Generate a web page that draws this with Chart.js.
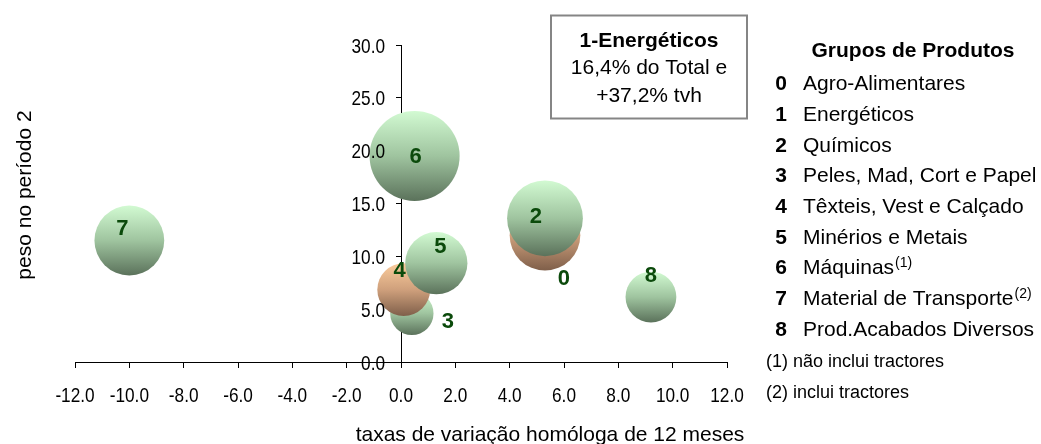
<!DOCTYPE html>
<html>
<head>
<meta charset="utf-8">
<script src="https://cdn.jsdelivr.net/npm/chart.js@4.4.1/dist/chart.umd.min.js"></script>
<style>
html,body{margin:0;padding:0;background:#ffffff;}
#wrap{width:1041px;height:444px;position:relative;}
</style>
</head>
<body>
<div id="wrap"><canvas id="c" width="1041" height="444"></canvas></div>
<script>
// ---------- DATA ----------
const groupCodes = ['0','1','2','3','4','5','6','7','8'];
const groupNames = ['Agro-Alimentares','Energéticos','Químicos','Peles, Mad, Cort e Papel','Têxteis, Vest e Calçado','Minérios e Metais','Máquinas','Material de Transporte','Prod.Acabados Diversos'];
const groupNotes = ['','','','','','','(1)','(2)',''];
const footnotes = ['(1) não inclui tractores','(2) inclui tractores'];

// plotted groups (1-Energéticos is outside the range, shown in the box)
const plottedCodes   = ['0','2','3','4','5','6','7','8'];
const growthRate     = [5.3, 5.3, 0.4, 0.1, 1.3, 0.5, -10.0, 9.2];   // x: taxa de variação homóloga
const weightPeriod2  = [12.0, 13.6, 4.6, 6.85, 9.35, 19.5, 11.5, 6.15]; // y: peso no período 2
const bubbleWeight   = [12.0, 13.8, 4.5, 6.7, 9.3, 19.5, 11.7, 6.2];  // bubble size

const xTickValues = [-12,-10,-8,-6,-4,-2,0,2,4,6,8,10,12];
const xTickLabels = ['-12.0','-10.0','-8.0','-6.0','-4.0','-2.0','0.0','2.0','4.0','6.0','8.0','10.0','12.0'];
const yTickValues = [0,5,10,15,20,25,30];
const yTickLabels = ['0.0','5.0','10.0','15.0','20.0','25.0','30.0'];

const boxLines = ['1-Energéticos','16,4% do Total e','+37,2% tvh'];
const xTitle = 'taxas de variação homóloga de 12 meses';
const yTitle = 'peso no período 2';
const legendTitle = 'Grupos de Produtos';

// ---------- STYLE ----------
const orangeCodes = ['0','4'];
const SIZE_K = 10.2;
const LABEL_OFFSETS = {'0':[19,42],'2':[-9,-3],'3':[36,7],'4':[-4,-20],'5':[4,-18],'6':[1,-1],'7':[-7,-13],'8':[0,-23]};
const SANS = "'Liberation Sans', Arial, Helvetica, sans-serif";

function bubbleFill(ctx) {
  const chart = ctx.chart;
  const ys = chart.scales && chart.scales.y;
  const i = ctx.dataIndex;
  const orange = i !== undefined && orangeCodes.includes(plottedCodes[i]);
  if (!ys || i === undefined) return orange ? '#cfa07c' : '#9fc49f';
  const cy = ys.getPixelForValue(weightPeriod2[i]);
  const r = SIZE_K * Math.sqrt(bubbleWeight[i]);
  if (!isFinite(cy) || !isFinite(r)) return orange ? '#cfa07c' : '#9fc49f';
  const g = chart.ctx.createLinearGradient(0, cy - r, 0, cy + r);
  if (orange) {
    g.addColorStop(0, '#fbcc9c');
    g.addColorStop(0.5, '#cfa07c');
    g.addColorStop(1, '#7f5f4a');
  } else {
    g.addColorStop(0, '#d2fad2');
    g.addColorStop(0.5, '#9fc49f');
    g.addColorStop(1, '#5b725b');
  }
  return g;
}

function narrowText(c, text, x, y, align) {
  c.save();
  c.translate(x, y);
  c.scale(0.82, 1);
  c.textAlign = align;
  c.fillText(text, 0, 0);
  c.restore();
}

const overlayPlugin = {
  id: 'overlay',
  afterDatasetsDraw(chart) {
    const c = chart.ctx;
    const xs = chart.scales.x, ys = chart.scales.y;
    const axisX = xs.getPixelForValue(0);
    const axisY = ys.getPixelForValue(0);
    // tick labels (condensed, Arial Narrow-like)
    c.save();
    c.fillStyle = '#000';
    c.font = "21px " + SANS;
    c.textBaseline = 'alphabetic';
    xs.ticks.forEach((t, i) => {
      narrowText(c, xTickLabels[i], xs.getPixelForValue(t.value), axisY + 40, 'center');
    });
    ys.ticks.forEach((t, i) => {
      narrowText(c, yTickLabels[i], axisX - 16, ys.getPixelForValue(t.value) + 7.5, 'right');
    });
    c.restore();
    // bubble labels
    c.save();
    c.font = "bold 22px " + SANS;
    c.fillStyle = '#0b4a0b';
    c.textAlign = 'center';
    c.textBaseline = 'alphabetic';
    plottedCodes.forEach((code, i) => {
      const px = xs.getPixelForValue(growthRate[i]);
      const py = ys.getPixelForValue(weightPeriod2[i]);
      const o = LABEL_OFFSETS[code] || [0,0];
      c.fillText(code, px + o[0], py + o[1] + 7.8);
    });
    c.restore();
  },
  afterDraw(chart) {
    const c = chart.ctx;
    c.save();
    c.fillStyle = '#000';
    c.font = "21px " + SANS;
    c.textAlign = 'center';
    c.textBaseline = 'alphabetic';
    c.fillText(xTitle, 550, 441);
    c.save();
    c.translate(31, 195);
    c.rotate(-Math.PI / 2);
    c.fillText(yTitle, 0, 0);
    c.restore();

    c.lineWidth = 2;
    c.strokeStyle = '#858585';
    c.strokeRect(551, 15.5, 196, 103);
    c.font = "bold 21px " + SANS;
    c.fillText(boxLines[0], 649, 46.5);
    c.font = "21px " + SANS;
    c.fillText(boxLines[1], 649, 74.2);
    c.fillText(boxLines[2], 649, 101.8);

    c.font = "bold 21px " + SANS;
    c.fillText(legendTitle, 913, 56.8);
    groupCodes.forEach((code, i) => {
      const by = 90.2 + 30.7 * i;
      c.font = "bold 21px " + SANS;
      c.textAlign = 'center';
      c.fillText(code, 781, by);
      c.font = "21px " + SANS;
      c.textAlign = 'left';
      c.fillText(groupNames[i], 803, by);
      if (groupNotes[i]) {
        const w = c.measureText(groupNames[i]).width;
        c.font = "14px " + SANS;
        c.fillText(groupNotes[i], 803 + w + 1, by - 7);
      }
    });
    c.font = "18px " + SANS;
    c.textAlign = 'left';
    c.fillText(footnotes[0], 766, 367);
    c.fillText(footnotes[1], 766, 398);
    c.restore();
  }
};

new Chart(document.getElementById('c'), {
  type: 'bubble',
  data: {
    datasets: [{
      label: 'Grupos de Produtos',
      data: plottedCodes.map((code, i) => ({
        x: growthRate[i],
        y: weightPeriod2[i],
        r: SIZE_K * Math.sqrt(bubbleWeight[i])
      })),
      backgroundColor: bubbleFill,
      hoverBackgroundColor: bubbleFill,
      borderWidth: 0,
      hoverBorderWidth: 0,
      clip: false
    }]
  },
  options: {
    responsive: false,
    animation: false,
    events: [],
    layout: { padding: { left: 75, right: 314, top: 34, bottom: 82 } },
    plugins: { legend: { display: false }, tooltip: { enabled: false } },
    scales: {
      x: {
        type: 'linear',
        min: -12, max: 12,
        position: { y: 0 },
        afterBuildTicks: s => { s.ticks = xTickValues.map(v => ({ value: v })); },
        ticks: { display: false, autoSkip: false },
        grid: { drawOnChartArea: false, drawTicks: true, tickLength: 5, color: '#000', lineWidth: 1 },
        border: { display: true, color: '#000', width: 1 }
      },
      y: {
        type: 'linear',
        min: 0, max: 30,
        position: { x: 0 },
        afterBuildTicks: s => { s.ticks = yTickValues.map(v => ({ value: v })); },
        ticks: { display: false, autoSkip: false },
        grid: { drawOnChartArea: false, drawTicks: true, tickLength: 5, color: '#000', lineWidth: 1 },
        border: { display: true, color: '#000', width: 1 }
      }
    }
  },
  plugins: [overlayPlugin]
});
</script>
</body>
</html>
